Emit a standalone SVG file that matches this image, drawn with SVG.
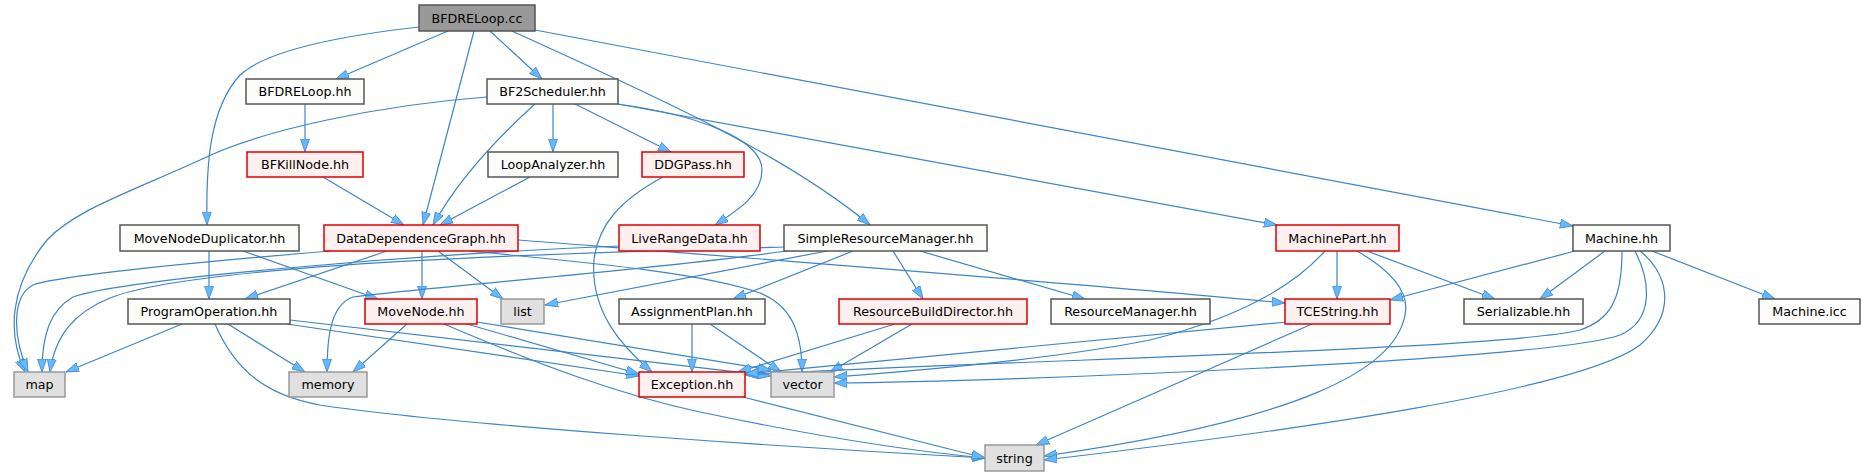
<svg xmlns="http://www.w3.org/2000/svg" width="1864" height="476" viewBox="0 0 1864 476">
<style>
.n rect{fill:#fcfdfb;stroke:#555;stroke-width:1.5}
.r rect{fill:#fff0f0;stroke:#e00000;stroke-width:1.5}
.x rect{fill:#e0e0e0;stroke:#999;stroke-width:1.5}
.root rect{fill:#999;stroke:#555;stroke-width:1.5}
text{font-family:"DejaVu Sans","Liberation Sans",sans-serif;font-size:12.7px;fill:#000;text-anchor:middle}
#edges path{fill:none;stroke:#3d84c6;stroke-width:1.2;marker-end:url(#ah)}
</style>
<defs>
<marker id="ah" viewBox="0 0 13 10" refX="13" refY="5" markerWidth="13" markerHeight="10" markerUnits="userSpaceOnUse" orient="auto">
<path d="M0,0.5 L13,5 L0,9.5 z" fill="#63b8ff" stroke="#3f86c8" stroke-width="0.8"/>
</marker>
</defs>
<rect width="1864" height="476" fill="#fff"/>
<g id="edges">
<path d="M419,27 C330,37 265,52 240,75 C208,110 206,170 207,225"/>
<path d="M448,31 L336,79"/>
<path d="M474,31 L423,225"/>
<path d="M490,31 L542,79"/>
<path d="M512,31 C640,90 780,150 870,225"/>
<path d="M535,30 L1573,226"/>
<path d="M305,104 L305,152"/>
<path d="M323,177 L404,225"/>
<path d="M487,97 C380,105 260,130 200,160 C130,192 75,210 47,240 C8,288 8,335 25,372"/>
<path d="M535,104 C495,140 458,180 433,225"/>
<path d="M553,104 L553,152"/>
<path d="M575,104 L671,152"/>
<path d="M617,104 C700,115 762,140 762,170 C762,195 738,210 715,225"/>
<path d="M618,104 L1277,225"/>
<path d="M530,177 L440,225"/>
<path d="M663,177 C620,200 598,225 594,260 C590,310 620,345 652,372"/>
<path d="M209,251 L209,299"/>
<path d="M243,251 L378,299"/>
<path d="M330,251 C200,262 60,275 33,285 C12,296 12,335 28,372"/>
<path d="M387,251 L245,299"/>
<path d="M422,251 L422,299"/>
<path d="M438,251 L503,299"/>
<path d="M470,251 C580,262 700,272 760,293 C790,305 802,330 802,372"/>
<path d="M518,240 C800,262 1100,285 1285,303"/>
<path d="M619,246 C400,255 120,280 73,297 C50,310 42,335 42,372"/>
<path d="M784,247 C600,252 200,262 110,298 C75,312 55,335 50,372"/>
<path d="M787,251 C650,270 450,285 353,297 C333,304 327,330 327,372"/>
<path d="M827,251 L545,305"/>
<path d="M853,251 L733,299"/>
<path d="M893,251 L923,299"/>
<path d="M920,251 L1085,299"/>
<path d="M182,324 L66,372"/>
<path d="M228,324 L305,372"/>
<path d="M215,324 C235,370 265,395 320,405 C450,425 800,448 985,458"/>
<path d="M287,324 L639,376"/>
<path d="M290,320 L771,376"/>
<path d="M407,324 L353,372"/>
<path d="M467,324 L639,374"/>
<path d="M477,322 L771,370"/>
<path d="M444,324 C540,365 620,395 700,412 C800,433 900,450 985,458"/>
<path d="M743,397 L985,458"/>
<path d="M692,324 L692,372"/>
<path d="M710,324 L781,372"/>
<path d="M895,324 L738,372"/>
<path d="M912,324 L830,372"/>
<path d="M1337,251 L1337,299"/>
<path d="M1367,251 L1495,299"/>
<path d="M1325,251 C1290,290 1230,320 1150,340 C1050,360 900,372 834,377"/>
<path d="M1357,251 C1390,270 1410,292 1405,315 C1395,370 1300,420 1044,456"/>
<path d="M1575,251 L1390,300"/>
<path d="M1605,251 L1540,299"/>
<path d="M1652,251 L1775,299"/>
<path d="M1622,251 C1622,300 1610,320 1580,330 C1500,350 1000,360 745,375"/>
<path d="M1635,251 C1650,280 1655,320 1620,335 C1550,360 1000,382 834,383"/>
<path d="M1640,251 C1665,270 1680,310 1640,345 C1580,390 1300,430 1044,460"/>
<path d="M1312,324 L1036,445"/>
<path d="M1287,322 L745,374"/>
</g>
<g id="n_root" class="root"><rect x="419" y="5" width="116" height="26"/><text x="477" y="22.5">BFDRELoop.cc</text></g>
<g id="n_bfdreloop_hh" class="n"><rect x="246" y="79" width="118" height="25"/><text x="305" y="96">BFDRELoop.hh</text></g>
<g id="n_bfkillnode" class="r"><rect x="247" y="152" width="116" height="25"/><text x="305" y="169">BFKillNode.hh</text></g>
<g id="n_bf2scheduler" class="n"><rect x="487" y="79" width="131" height="25"/><text x="552.5" y="96">BF2Scheduler.hh</text></g>
<g id="n_loopanalyzer" class="n"><rect x="488" y="152" width="130" height="25"/><text x="553" y="169">LoopAnalyzer.hh</text></g>
<g id="n_ddgpass" class="r"><rect x="642" y="152" width="102" height="25"/><text x="693" y="169">DDGPass.hh</text></g>
<g id="n_movenodeduplicator" class="n"><rect x="120" y="225" width="179" height="26"/><text x="209.5" y="242.5">MoveNodeDuplicator.hh</text></g>
<g id="n_ddg" class="r"><rect x="324" y="225" width="194" height="26"/><text x="421" y="242.5">DataDependenceGraph.hh</text></g>
<g id="n_liverangedata" class="r"><rect x="619" y="225" width="141" height="26"/><text x="689.5" y="242.5">LiveRangeData.hh</text></g>
<g id="n_srm" class="n"><rect x="784" y="225" width="203" height="26"/><text x="885.5" y="242.5">SimpleResourceManager.hh</text></g>
<g id="n_machinepart" class="r"><rect x="1276" y="225" width="123" height="26"/><text x="1337.5" y="242.5">MachinePart.hh</text></g>
<g id="n_machine" class="n"><rect x="1573" y="225" width="97" height="26"/><text x="1621.5" y="242.5">Machine.hh</text></g>
<g id="n_programoperation" class="n"><rect x="128" y="299" width="162" height="25"/><text x="209" y="316">ProgramOperation.hh</text></g>
<g id="n_movenode" class="r"><rect x="365" y="299" width="112" height="25"/><text x="421" y="316">MoveNode.hh</text></g>
<g id="n_list" class="x"><rect x="501" y="299" width="43" height="25"/><text x="522.5" y="316">list</text></g>
<g id="n_assignmentplan" class="n"><rect x="619" y="299" width="146" height="25"/><text x="692" y="316">AssignmentPlan.hh</text></g>
<g id="n_rbd" class="r"><rect x="839" y="299" width="188" height="25"/><text x="933" y="316">ResourceBuildDirector.hh</text></g>
<g id="n_resourcemanager" class="n"><rect x="1051" y="299" width="159" height="25"/><text x="1130.5" y="316">ResourceManager.hh</text></g>
<g id="n_tcestring" class="r"><rect x="1285" y="299" width="105" height="25"/><text x="1337.5" y="316">TCEString.hh</text></g>
<g id="n_serializable" class="n"><rect x="1464" y="299" width="119" height="25"/><text x="1523.5" y="316">Serializable.hh</text></g>
<g id="n_machineicc" class="n"><rect x="1759" y="299" width="101" height="25"/><text x="1809.5" y="316">Machine.icc</text></g>
<g id="n_map" class="x"><rect x="14" y="372" width="51" height="25"/><text x="39.5" y="389">map</text></g>
<g id="n_memory" class="x"><rect x="289" y="372" width="78" height="25"/><text x="328" y="389">memory</text></g>
<g id="n_exception" class="r"><rect x="639" y="372" width="106" height="25"/><text x="692" y="389">Exception.hh</text></g>
<g id="n_vector" class="x"><rect x="771" y="372" width="63" height="25"/><text x="802.5" y="389">vector</text></g>
<g id="n_string" class="x"><rect x="985" y="445" width="59" height="26"/><text x="1014.5" y="462.5">string</text></g>
</svg>
